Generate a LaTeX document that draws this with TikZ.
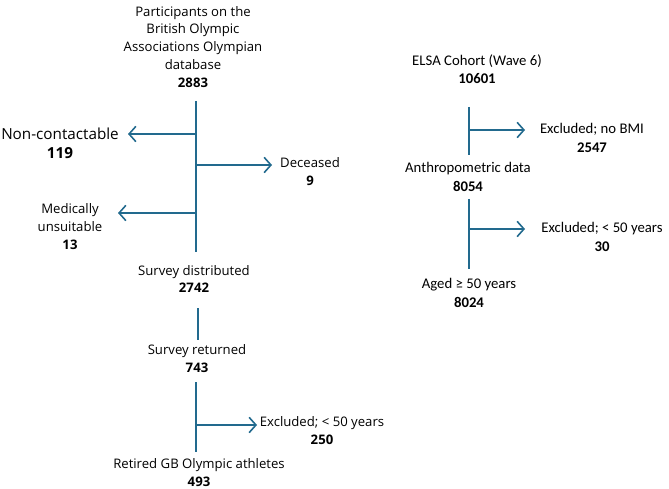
\documentclass[tikz,border=0pt]{standalone}
\usepackage{fontspec}
\setmainfont{Open Sans}
\newfontfamily\calibri{Carlito}
\usetikzlibrary{arrows.meta,positioning}
\definecolor{Flow}{HTML}{226A8E}
\tikzset{
  stage/.style={align=center, inner sep=0pt, font=\fontsize{13.2}{18}\selectfont},
  bigstage/.style={stage, font=\fontsize{15.3}{19}\selectfont},
  elsa/.style={align=center, inner sep=0pt, font=\calibri\fontsize{14.8}{18.5}\selectfont},
  trunk/.style={draw=Flow, line width=1.6pt},
  branch/.style={-{Straight Barb[length=2.4mm,width=5.4mm]}, draw=Flow, line width=1.6pt}
}
\begin{document}
\begin{tikzpicture}[x=1bp,y=-1bp]
  \path[use as bounding box] (0,0) rectangle (669,489);
  % olympians
  \node[stage] (bod) at (193,47) {Participants on the\\British Olympic\\Associations Olympian\\database\\\textbf{2883}};
  \node[bigstage] (nc) at (60,143) {Non-contactable\\\textbf{119}};
  \node[stage] (dec) at (310,172) {Deceased\\\textbf{9}};
  \node[stage] (med) at (70,227) {Medically\\unsuitable\\\textbf{13}};
  \node[stage] (sd) at (194,279) {Survey distributed\\\textbf{2742}};
  \node[stage] (sr) at (197,359) {Survey returned\\\textbf{743}};
  \node[stage] (exc) at (322,431) {Excluded; < 50 years\\\textbf{250}};
  \node[stage] (ret) at (199,473) {Retired GB Olympic athletes\\\textbf{493}};
  \coordinate (t1) at (196,101);
  \coordinate (t2) at (196,252);
  \coordinate (j1) at (196,134);
  \coordinate (j2) at (196,165);
  \coordinate (j3) at (196,213);
  \coordinate (t3) at (198,308);
  \coordinate (t4) at (198,340);
  \coordinate (t5) at (196,382);
  \coordinate (t6) at (196,452);
  \coordinate (j4) at (196,425);
  \coordinate (a1) at (128,134);
  \coordinate (a2) at (272,165);
  \coordinate (a3) at (118,213);
  \coordinate (a4) at (257,425);
  \draw[trunk] (t1) -- (t2);
  \draw[trunk] (t3) -- (t4);
  \draw[trunk] (t5) -- (t6);
  \draw[branch] (j1) -- (a1);
  \draw[branch] (j2) -- (a2);
  \draw[branch] (j3) -- (a3);
  \draw[branch] (j4) -- (a4);
  % ELSA
  \node[elsa] (elsa) at (477,69) {ELSA Cohort (Wave 6)\\\textbf{10601}};
  \node[elsa] (nobmi) at (592,138) {Excluded; no BMI\\\textbf{2547}};
  \node[elsa] (anth) at (468,177) {Anthropometric data\\\textbf{8054}};
  \node[elsa] (young) at (602,237) {Excluded; < 50 years\\\textbf{30}};
  \node[elsa] (aged) at (469,293) {Aged ≥ 50 years\\\textbf{8024}};
  \coordinate (e1) at (469,107);
  \coordinate (e2) at (469,155);
  \coordinate (e3) at (469,199);
  \coordinate (e4) at (469,269);
  \coordinate (k1) at (469,130);
  \coordinate (k2) at (469,229);
  \coordinate (b1) at (525,130);
  \coordinate (b2) at (525,229);
  \draw[trunk] (e1) -- (e2);
  \draw[trunk] (e3) -- (e4);
  \draw[branch] (k1) -- (b1);
  \draw[branch] (k2) -- (b2);
\end{tikzpicture}
\end{document}
